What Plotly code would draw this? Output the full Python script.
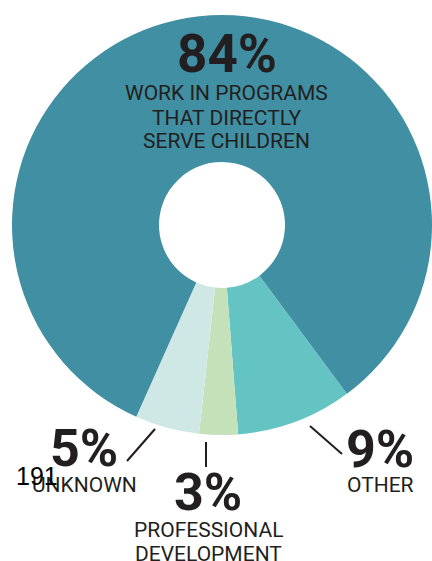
import plotly.graph_objects as go

# Share of staff by program type (clockwise from the "Other" wedge)
categories = ["Other", "Professional Development", "Unknown", "Work in programs that directly serve children"]
values = [9, 3, 5, 84]
colors = ["#64C4C4", "#C5E1BA", "#CFE8E6", "#418FA3"]

W, H = 432, 561
INK = "#231F20"


def px(x):
    return x / W


def py(y):
    return 1 - y / H


fig = go.Figure(
    go.Pie(
        labels=categories,
        values=values,
        hole=0.30,
        sort=False,
        direction="clockwise",
        rotation=143.5,
        marker=dict(colors=colors, line=dict(width=0)),
        textinfo="none",
        hoverinfo="label+value",
        domain=dict(x=[px(12), 1.0], y=[py(435), py(15)]),
        showlegend=False,
    )
)

annotations = []


def add_text(x, y, text, size, bold=False, family="Roboto", color=INK):
    annotations.append(
        dict(
            x=px(x), y=py(y), xref="paper", yref="paper",
            text=f"<b>{text}</b>" if bold else text,
            showarrow=False, xanchor="center", yanchor="middle",
            font=dict(family=family, size=size, color=color),
        )
    )


# Headline inside the large wedge
add_text(227, 54, "84%", 53, bold=True)
add_text(227, 93.5, "WORK IN PROGRAMS", 21)
add_text(227, 117.5, "THAT DIRECTLY", 21)
add_text(227, 141.5, "SERVE CHILDREN", 21)

# Callouts below the ring
add_text(84, 448.5, "5%", 52, bold=True)
add_text(84, 484.5, "UNKNOWN", 21)
add_text(208, 492.5, "3%", 52, bold=True)
add_text(208, 529.5, "PROFESSIONAL", 21)
add_text(208, 553.5, "DEVELOPMENT", 21)
add_text(380, 449, "9%", 52, bold=True)
add_text(380, 484.5, "OTHER", 21)
add_text(37, 476, "191", 25, family="Liberation Sans", color="#000000")

# Leader lines from callouts to their wedges
leaders = [((127, 461), (155, 429)), ((206, 442), (206, 467)), ((310, 426), (342, 454))]
shapes = [
    dict(type="line", xref="paper", yref="paper",
         x0=px(a[0]), y0=py(a[1]), x1=px(b[0]), y1=py(b[1]),
         line=dict(color=INK, width=2))
    for a, b in leaders
]

fig.update_layout(
    width=W, height=H,
    margin=dict(l=0, r=0, t=0, b=0),
    paper_bgcolor="white", plot_bgcolor="white",
    annotations=annotations, shapes=shapes,
)

fig.write_html("out.html", config=dict(displayModeBar=False))
